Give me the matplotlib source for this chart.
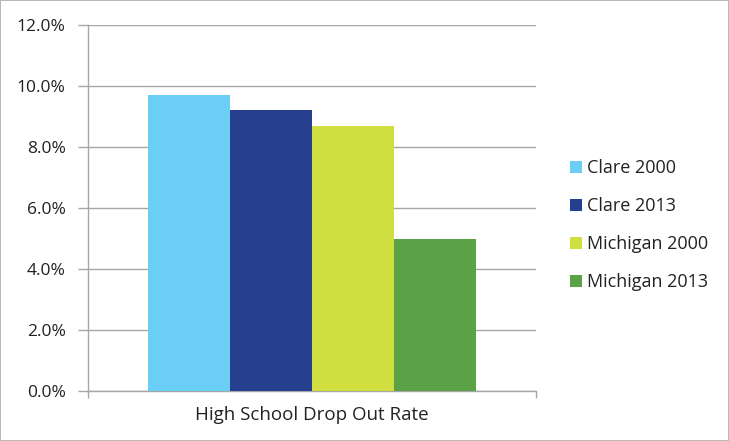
import matplotlib
matplotlib.use("Agg")
import matplotlib.pyplot as plt
from matplotlib.ticker import FuncFormatter, FixedLocator

categories = ["High School Drop Out Rate"]
series = ["Clare 2000", "Clare 2013", "Michigan 2000", "Michigan 2013"]
values = [9.7, 9.2, 8.7, 5.0]
colors = ["#6ACEF5", "#26408F", "#D0DE40", "#5BA145"]
yticks = [0, 2, 4, 6, 8, 10, 12]

plt.rcParams['font.family'] = ['Open Sans', 'DejaVu Sans']

fig = plt.figure(figsize=(7.29, 4.41), dpi=100)
fig.patch.set_edgecolor("#B8B8B8")
fig.patch.set_linewidth(1.2)
ax = fig.add_axes([88/729, 1-391/441, (536-88)/729, (391-25)/441])

group_w = 0.73
bw = group_w / len(series)
for i, (s, v, c) in enumerate(zip(series, values, colors)):
    x = -group_w/2 + bw/2 + i*bw
    ax.bar(x, v, width=bw, color=c, label=s, zorder=3)

ax.set_xlim(-0.5, 0.5)
ax.set_ylim(0, 12)
ax.set_yticks(yticks)
ax.yaxis.set_major_formatter(FuncFormatter(lambda v, p: f"{v:.1f}%"))
ax.grid(axis='y', color="#A6A6A6", linewidth=1, zorder=0)
ax.set_xticks([0])
ax.set_xticklabels(categories)
ax.xaxis.set_minor_locator(FixedLocator([-0.5, 0.5]))
ax.tick_params(axis='x', which='major', length=0, pad=11, labelsize=13.5, colors="#222222")
ax.tick_params(axis='x', which='minor', length=5, color="#A6A6A6", width=1)
ax.tick_params(axis='y', length=7, color="#A6A6A6", width=1, pad=9, labelsize=12.5, labelcolor="#222222")
for sp in ["top", "right"]:
    ax.spines[sp].set_visible(False)
for sp in ["left", "bottom"]:
    ax.spines[sp].set_color("#A6A6A6")
    ax.spines[sp].set_linewidth(1)

leg = ax.legend(loc="center left", bbox_to_anchor=(1.04, 0.453), frameon=False,
                fontsize=13, handlelength=0.65, handleheight=0.65, handletextpad=0.3,
                labelspacing=1.1, labelcolor="#222222")

fig.savefig("out.png", dpi=100)
